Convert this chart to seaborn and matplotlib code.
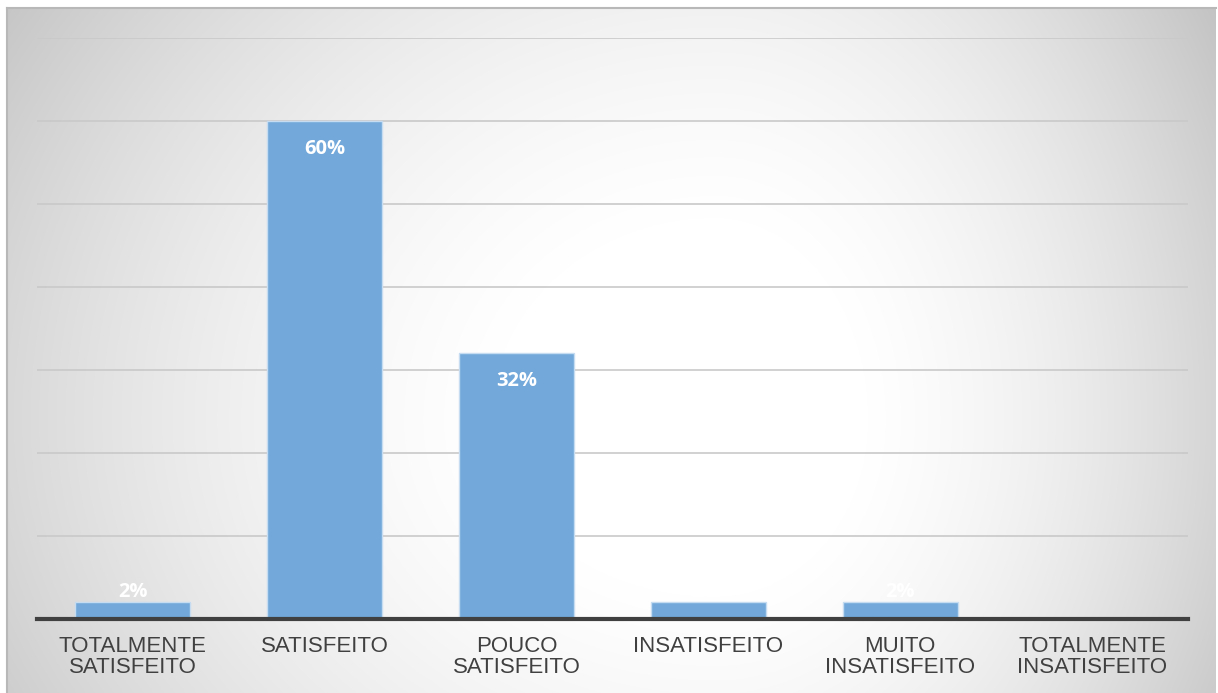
import numpy as np
import pandas as pd
import matplotlib
matplotlib.use("Agg")
import matplotlib.pyplot as plt
import seaborn as sns

categories = ["TOTALMENTE\nSATISFEITO", "SATISFEITO", "POUCO\nSATISFEITO",
              "INSATISFEITO", "MUITO\nINSATISFEITO", "TOTALMENTE\nINSATISFEITO"]
values = [2, 60, 32, 2, 2, 0]
value_labels = ["2%", "60%", "32%", "2%", "2%", ""]

df = pd.DataFrame({"categoria": categories, "valor": values})

sns.set_theme(style="white")
plt.rcParams["font.family"] = ["Liberation Sans", "DejaVu Sans"]

W, H = 1218, 693
fig = plt.figure(figsize=(W / 100, H / 100), dpi=100)
fig.patch.set_facecolor("white")

# Chart area with a soft radial fill, white in the middle and grey at the edges
bx0, by0, bx1, by1 = 7, 8, 1216, 693
bg = fig.add_axes([bx0 / W, 1 - by1 / H, (bx1 - bx0) / W, (by1 - by0) / H], zorder=0)
xs = np.arange(bx0, bx1)
ys = np.arange(by0, by1)
X, Y = np.meshgrid(xs, ys)
cx, cy = 715, 420
dx = X - cx
dy = Y - cy
nx = np.where(dx < 0, -dx / 710.0, dx / 485.0)
ny = np.where(dy < 0, -dy / 640.0, dy / 560.0)
r2 = nx ** 2 + ny ** 2
val = 1 - 0.17 * np.clip(r2 - 0.1, 0, None)
val = np.clip(val, 0.74, 1.0)
bg.imshow(np.dstack([val, val, val]), aspect="auto", interpolation="bilinear",
          extent=[0, 1, 0, 1])
bg.set_xticks([])
bg.set_yticks([])
for s in ["right", "bottom"]:
    bg.spines[s].set_visible(False)
for s in ["top", "left"]:
    bg.spines[s].set_color("#b8b8b8")
    bg.spines[s].set_linewidth(1.5)

# Plot area
px0, px1, py_top, py_bot = 37, 1188, 38, 619
ax = fig.add_axes([px0 / W, 1 - py_bot / H, (px1 - px0) / W, (py_bot - py_top) / H], zorder=1)
ax.patch.set_alpha(0)

sns.barplot(data=df, x="categoria", y="valor", color="#72a8da", width=0.6,
            edgecolor="#c5dcf1", linewidth=1.0, saturation=1, ax=ax, zorder=3)

ax.set_ylim(0, 70)
ax.set_xlim(-0.5, len(categories) - 0.5)
ax.set_yticks(np.arange(0, 71, 10))
ax.yaxis.grid(True, color="#c9c9c9", linewidth=1.2, zorder=0)
ax.set_axisbelow(True)
ax.tick_params(axis="y", length=0, labelleft=False)
ax.tick_params(axis="x", length=0, pad=12, labelsize=16, labelcolor="#404040")
ax.set_xlabel("")
ax.set_ylabel("")
for s in ["top", "right", "left"]:
    ax.spines[s].set_visible(False)
ax.spines["bottom"].set_color("#404040")
ax.spines["bottom"].set_linewidth(3)
ax.spines["bottom"].set_zorder(4)

for lbl in ax.get_xticklabels():
    lbl.set_linespacing(1.05)

# Value labels: inside the top of tall bars, just above short ones
for i, (v, t) in enumerate(zip(values, value_labels)):
    if not t:
        continue
    offset = -20 if v > 10 else 7.5
    ax.annotate(t, (i, v), xytext=(0, offset), textcoords="offset points",
                ha="center", va="center", color="white", fontsize=14.5,
                fontweight="bold", family=["Open Sans", "DejaVu Sans"], zorder=5)

fig.savefig("out.png", dpi=100, facecolor=fig.get_facecolor())
